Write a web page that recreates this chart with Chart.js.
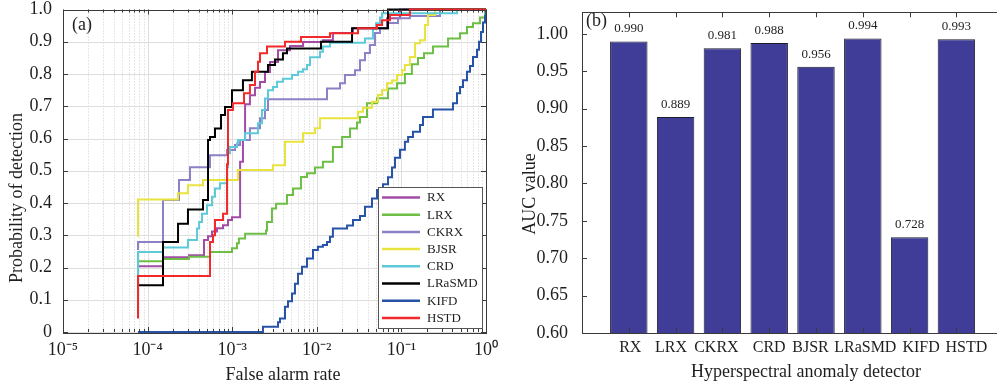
<!DOCTYPE html>
<html><head><meta charset="utf-8">
<script src="https://cdn.jsdelivr.net/npm/chart.js@4.4.1/dist/chart.umd.min.js"></script>
<style>
html,body{margin:0;padding:0;background:#fff;overflow:hidden;width:997px;height:387px;}
#wrap{position:relative;width:997px;height:387px;overflow:hidden;background:#fff;}
#ca{position:absolute;left:0;top:0;}
#cb{position:absolute;left:497px;top:0;}
</style></head><body>
<div id="wrap">
<canvas id="ca" width="506" height="387"></canvas>
<canvas id="cb" width="520" height="387"></canvas>
</div>
<script>
// ---------- Panel (a): ROC curves ----------
const seriesNames = ['RX','LRX','CKRX','BJSR','CRD','LRaSMD','KIFD','HSTD'];
const rocRX = [[7.7e-5,0.204],[1.52e-4,0.232],[3.08e-4,0.238],[4.64e-4,0.285],[5.18e-4,0.297],[5.77e-4,0.312],[6.61e-4,0.322],[7.78e-4,0.331],[8.92e-4,0.347],[9.95e-4,0.356],[1.24e-3,0.528],[1.34e-3,0.595],[1.42e-3,0.706],[1.62e-3,0.734],[1.86e-3,0.757],[2.13e-3,0.775],[2.44e-3,0.806],[2.80e-3,0.837],[3.48e-3,0.874],[4.82e-3,0.887],[6.87e-3,0.899],[1.18e-2,0.905],[1.55e-2,0.927],[2.68e-2,0.942],[6.76e-2,0.973],[9.62e-2,1.0],[1,1]];
const rocLRX = [[7.7e-5,0.219],[1.52e-4,0.226],[3.08e-4,0.233],[5.47e-4,0.248],[9.95e-4,0.26],[1.14e-3,0.275],[1.20e-3,0.29],[1.42e-3,0.305],[2.51e-3,0.315],[2.58e-3,0.341],[2.95e-3,0.383],[3.30e-3,0.398],[4.44e-3,0.425],[5.23e-3,0.445],[6.5e-3,0.481],[7.66e-3,0.492],[9.52e-3,0.51],[1.18e-2,0.528],[1.55e-2,0.574],[1.99e-2,0.605],[2.47e-2,0.631],[2.99e-2,0.65],[3.24e-2,0.667],[3.92e-2,0.709],[5.15e-2,0.725],[6.95e-2,0.755],[8.87e-2,0.771],[0.110,0.8],[0.133,0.83],[0.157,0.85],[0.185,0.864],[0.236,0.885],[0.356,0.91],[0.493,0.926],[0.596,0.946],[0.702,0.957],[0.849,0.975],[0.973,1.0],[1,1]];
const rocCKRX = [[7.7e-5,0.254],[7.7e-5,0.279],[1.52e-4,0.409],[2.35e-4,0.471],[3.17e-4,0.511],[5.47e-4,0.548],[8.69e-4,0.564],[1.08e-3,0.58],[1.24e-3,0.595],[1.62e-3,0.632],[2.13e-3,0.663],[2.44e-3,0.688],[2.65e-3,0.722],[1.32e-2,0.755],[1.88e-2,0.771],[2.15e-2,0.797],[2.83e-2,0.812],[3.24e-2,0.843],[3.71e-2,0.865],[4.25e-2,0.89],[4.87e-2,0.927],[5.58e-2,0.942],[6.95e-2,0.958],[9.12e-2,0.973],[0.126,0.98],[0.286,1.0],[1,1]];
const rocBJSR = [[7.7e-5,0.295],[7.7e-5,0.411],[2.29e-4,0.43],[3.0e-4,0.455],[4.52e-4,0.471],[1.17e-3,0.502],[3.03e-3,0.517],[4.21e-3,0.59],[6.87e-3,0.616],[9.52e-3,0.632],[1.09e-2,0.663],[3.07e-2,0.683],[3.52e-2,0.695],[4.49e-2,0.714],[5.29e-2,0.735],[5.90e-2,0.75],[6.76e-2,0.771],[7.74e-2,0.78],[8.87e-2,0.797],[0.102,0.812],[0.110,0.828],[0.126,0.853],[0.145,0.895],[0.166,0.905],[0.190,0.952],[0.206,0.983],[0.250,1.0],[1,1]];
const rocCRD = [[7.7e-5,0.176],[7.7e-5,0.248],[1.52e-4,0.262],[3.0e-4,0.285],[3.84e-4,0.321],[4.06e-4,0.341],[4.40e-4,0.367],[5.04e-4,0.393],[5.77e-4,0.419],[6.26e-4,0.445],[7.18e-4,0.461],[8.69e-4,0.512],[8.92e-4,0.554],[9.42e-4,0.574],[1.14e-3,0.585],[1.17e-3,0.595],[1.42e-3,0.616],[2.02e-3,0.647],[2.25e-3,0.688],[2.44e-3,0.724],[2.65e-3,0.75],[3.03e-3,0.76],[3.39e-3,0.776],[3.98e-3,0.785],[5.09e-3,0.797],[6.0e-3,0.807],[6.87e-3,0.815],[7.66e-3,0.828],[8.31e-3,0.852],[1.09e-2,0.869],[1.18e-2,0.885],[1.43e-2,0.897],[3.71e-2,0.91],[4.61e-2,0.94],[5.01e-2,0.957],[5.58e-2,0.975],[5.90e-2,0.988],[0.454,1.0],[1,1]];
const rocLRaSMD = [[7.7e-5,0.145],[1.52e-4,0.279],[2.29e-4,0.336],[3.0e-4,0.38],[4.52e-4,0.409],[5.18e-4,0.595],[5.47e-4,0.605],[6.26e-4,0.631],[7.38e-4,0.673],[8.22e-4,0.698],[9.95e-4,0.75],[1.34e-3,0.781],[1.71e-3,0.807],[2.65e-3,0.828],[3.21e-3,0.845],[3.98e-3,0.864],[4.44e-3,0.879],[1.12e-2,0.9],[2.61e-2,0.942],[6.95e-2,1.0],[1,1]];
const rocKIFD = [[7.7e-5,0],[2.31e-3,0.016],[3.48e-3,0.03],[3.67e-3,0.042],[4.21e-3,0.078],[4.57e-3,0.095],[5.09e-3,0.119],[5.52e-3,0.15],[6.0e-3,0.181],[6.68e-3,0.202],[7.66e-3,0.228],[9.02e-3,0.254],[1.03e-2,0.264],[1.18e-2,0.27],[1.32e-2,0.279],[1.43e-2,0.295],[1.55e-2,0.321],[2.28e-2,0.33],[2.68e-2,0.347],[3.24e-2,0.36],[3.71e-2,0.388],[4.49e-2,0.414],[5.15e-2,0.44],[6.06e-2,0.458],[6.95e-2,0.48],[7.74e-2,0.51],[8.40e-2,0.54],[9.62e-2,0.565],[0.110,0.59],[0.120,0.605],[0.137,0.621],[0.166,0.642],[0.180,0.667],[0.236,0.69],[0.407,0.709],[0.454,0.74],[0.493,0.76],[0.535,0.781],[0.596,0.807],[0.647,0.825],[0.702,0.853],[0.783,0.875],[0.826,0.9],[0.873,0.93],[0.922,0.96],[0.973,0.98],[1,1]];
const rocHSTD = [[7.7e-5,0.042],[7.7e-5,0.174],[5.47e-4,0.279],[5.93e-4,0.30],[6.26e-4,0.347],[7.78e-4,0.367],[8.69e-4,0.52],[8.92e-4,0.688],[1.02e-3,0.709],[1.38e-3,0.74],[1.62e-3,0.766],[1.86e-3,0.807],[2.02e-3,0.838],[2.13e-3,0.864],[2.58e-3,0.885],[4.21e-3,0.9],[6.5e-3,0.915],[1.43e-2,0.926],[3.07e-2,0.942],[5.15e-2,0.952],[5.90e-2,0.967],[7.33e-2,0.983],[0.126,1.0],[1,1]];
const xDecades = [1e-5,1e-4,1e-3,1e-2,1e-1,1];
const xDecadeLabels = ['10\u207B\u2075','10\u207B\u2074','10\u207B\u00B3','10\u207B\u00B2','10\u207B\u00B9','10\u2070'];
const yTicksA = [0,0.1,0.2,0.3,0.4,0.5,0.6,0.7,0.8,0.9,1.0];
const yTickLabelsA = ['0','0.1','0.2','0.3','0.4','0.5','0.6','0.7','0.8','0.9','1.0'];

// ---------- Panel (b): AUC bars ----------
const detectors = ['RX','LRX','CKRX','CRD','BJSR','LRaSMD','KIFD','HSTD'];
const aucValues = [0.990,0.889,0.981,0.988,0.956,0.994,0.728,0.993];
const yTicksB = [0.60,0.65,0.70,0.75,0.80,0.85,0.90,0.95,1.00];

// ---------- styles ----------
const rocData = [rocRX,rocLRX,rocCKRX,rocBJSR,rocCRD,rocLRaSMD,rocKIFD,rocHSTD];
const colors = ['#A34CA6','#6DBE45','#8E80C6','#E9E33E','#5CCAD8','#000000','#2652A8','#F2282A'];
const labelShiftB = [1.5,-4.5,-6,0,-5.5,2.5,11.5,10];   // horizontal nudges of category labels (px)
const FONT = '"Liberation Serif", "Times New Roman", serif';
const TXT = '#1e1e1e';
const AXC = '#3a3a3a';

const minorX = [];
xDecades.slice(0,-1).forEach(d => { for (let m = 2; m <= 9; m++) minorX.push(m*d); });
const allX = xDecades.concat(minorX).sort((a,b)=>a-b);
const isDecade = v => xDecades.some(d => Math.abs(v-d)/d < 1e-9);

const decorA = {
  id: 'decorA',
  beforeDatasetsDraw(chart) {
    const {ctx, chartArea:{left,right,top,bottom}, scales:{x,y}} = chart;
    ctx.save();
    ctx.lineWidth = 1;
    ctx.strokeStyle = '#cfcfcf';
    ctx.setLineDash([1,2]);
    minorX.forEach(v => {
      const px = Math.round(x.getPixelForValue(v)) + 0.5;
      ctx.beginPath(); ctx.moveTo(px, top); ctx.lineTo(px, bottom); ctx.stroke();
    });
    ctx.setLineDash([]);
    ctx.strokeStyle = '#dedede';
    xDecades.forEach(v => {
      const px = Math.round(x.getPixelForValue(v)) + 0.5;
      ctx.beginPath(); ctx.moveTo(px, top); ctx.lineTo(px, bottom); ctx.stroke();
    });
    yTicksA.forEach(v => {
      const py = Math.round(y.getPixelForValue(v)) + 0.5;
      ctx.beginPath(); ctx.moveTo(left, py); ctx.lineTo(right, py); ctx.stroke();
    });
    ctx.restore();
  },
  afterDraw(chart) {
    const {ctx, chartArea:{left,right,top,bottom}, scales:{x,y}} = chart;
    ctx.save();
    ctx.strokeStyle = AXC; ctx.lineWidth = 1;
    ctx.strokeRect(Math.round(left)+0.5, Math.round(top)+0.5, Math.round(right-left), Math.round(bottom-top));
    allX.forEach(v => {
      const px = Math.round(x.getPixelForValue(v)) + 0.5;
      const L = isDecade(v) ? 5 : 3;
      ctx.beginPath(); ctx.moveTo(px, bottom); ctx.lineTo(px, bottom-L);
      ctx.moveTo(px, top); ctx.lineTo(px, top+L); ctx.stroke();
    });
    yTicksA.forEach(v => {
      const py = Math.round(y.getPixelForValue(v)) + 0.5;
      ctx.beginPath(); ctx.moveTo(left, py); ctx.lineTo(left+5, py);
      ctx.moveTo(right, py); ctx.lineTo(right-5, py); ctx.stroke();
    });
    // legend
    const lx = 378, ly = 187, lw = 104, lh = 141;
    ctx.fillStyle = '#fff'; ctx.fillRect(lx, ly, lw, lh);
    ctx.strokeStyle = '#555'; ctx.strokeRect(lx+0.5, ly+0.5, lw, lh);
    ctx.font = '13px ' + FONT; ctx.textBaseline = 'middle'; ctx.textAlign = 'left';
    seriesNames.forEach((n, i) => {
      const yy = 197.5 + i*17.2;
      ctx.strokeStyle = colors[i]; ctx.lineWidth = 2.5;
      ctx.beginPath(); ctx.moveTo(382, yy); ctx.lineTo(420, yy); ctx.stroke();
      ctx.fillStyle = TXT; ctx.fillText(n, 427, yy + 0.5);
    });
    // panel tag and axis titles
    ctx.fillStyle = TXT;
    ctx.font = '18px ' + FONT;
    ctx.fillText('(a)', 72, 25);
    ctx.textAlign = 'center';
    ctx.fillText('False alarm rate', 283, 375);
    ctx.translate(17, 198); ctx.rotate(-Math.PI/2);
    ctx.fillText('Probability of detection', 0, 0);
    ctx.restore();
  }
};

new Chart(document.getElementById('ca'), {
  type: 'line',
  data: {
    datasets: seriesNames.map((n, i) => ({
      label: n, data: rocData[i], borderColor: colors[i], backgroundColor: colors[i],
      borderWidth: 2, pointRadius: 0, stepped: true, fill: false,
      order: seriesNames.length - i, clip: 3
    }))
  },
  options: {
    responsive: false, animation: false, events: [],
    layout: { padding: { left: 0, top: 9.5, right: 20, bottom: 0 } },
    plugins: { legend: { display: false }, tooltip: { enabled: false } },
    scales: {
      x: {
        type: 'logarithmic', min: 1e-5, max: 1,
        grid: { display: false }, border: { display: false },
        afterBuildTicks: s => { s.ticks = allX.map(v => ({ value: v, major: isDecade(v) })); },
        afterFit: s => { s.height = 55; },
        ticks: {
          autoSkip: false, maxRotation: 0, minRotation: 0, padding: 4, color: TXT,
          font: { family: FONT, size: 18, lineHeight: 0.7 },
          callback: v => { const k = xDecades.findIndex(d => Math.abs(v-d)/d < 1e-9); return k >= 0 ? xDecadeLabels[k] : ''; }
        }
      },
      y: {
        type: 'linear', min: 0, max: 1,
        grid: { display: false }, border: { display: false },
        afterBuildTicks: s => { s.ticks = yTicksA.map(v => ({ value: v })); },
        afterFit: s => { s.width = 63; },
        ticks: {
          padding: 3, color: TXT, font: { family: FONT, size: 18, lineHeight: 0.7 },
          callback: (v, i) => yTickLabelsA[i]
        }
      }
    }
  },
  plugins: [decorA]
});

const decorB = {
  id: 'decorB',
  afterDraw(chart) {
    const {ctx, chartArea:{left,right,top,bottom}, scales:{x,y}} = chart;
    ctx.save();
    ctx.strokeStyle = AXC; ctx.lineWidth = 1;
    ctx.strokeRect(Math.round(left)+0.5, Math.round(top)+0.5, Math.round(right-left), Math.round(bottom-top));
    detectors.forEach((d, i) => {
      const px = Math.round(x.getPixelForValue(i+1)) + 0.5;
      ctx.beginPath(); ctx.moveTo(px, Math.round(top)); ctx.lineTo(px, top+5);
      ctx.moveTo(px, Math.round(bottom)); ctx.lineTo(px, bottom-5); ctx.stroke();
    });
    yTicksB.forEach(v => {
      const py = Math.round(y.getPixelForValue(v)) + 0.5;
      ctx.beginPath(); ctx.moveTo(left, py); ctx.lineTo(left+5, py);
      ctx.moveTo(right, py); ctx.lineTo(right-5, py); ctx.stroke();
    });
    // value labels
    const meta = chart.getDatasetMeta(0);
    ctx.fillStyle = TXT; ctx.font = '13px ' + FONT;
    ctx.textAlign = 'center'; ctx.textBaseline = 'middle';
    meta.data.forEach((el, i) => { ctx.fillText(aucValues[i].toFixed(3), el.x, el.y - 12.5); });
    // category labels
    ctx.font = '16px ' + FONT;
    detectors.forEach((d, i) => {
      ctx.fillText(d, x.getPixelForValue(i+1) + labelShiftB[i], 348);
    });
    // tag and titles
    ctx.font = '18px ' + FONT;
    ctx.textAlign = 'left';
    ctx.fillText('(b)', 89, 21);
    ctx.textAlign = 'center';
    ctx.fillText('Hyperspectral anomaly detector', 309, 372);
    ctx.translate(33, 194); ctx.rotate(-Math.PI/2);
    ctx.fillText('AUC value', 0, 0);
    ctx.restore();
  }
};

new Chart(document.getElementById('cb'), {
  type: 'bar',
  data: {
    datasets: [{
      label: 'AUC',
      data: detectors.map((d, i) => ({ x: i + 1, y: aucValues[i] })),
      backgroundColor: '#3F3D97', borderColor: '#1c1c2a', borderWidth: 1,
      barPercentage: 0.8, categoryPercentage: 1, borderSkipped: 'start'
    }]
  },
  options: {
    responsive: false, animation: false, events: [],
    layout: { padding: { left: 0, top: 7, right: 13.8, bottom: 0 } },
    plugins: { legend: { display: false }, tooltip: { enabled: false } },
    scales: {
      x: {
        type: 'linear', min: 0, max: 9, offset: false,
        grid: { display: false }, border: { display: false },
        afterBuildTicks: s => { s.ticks = detectors.map((d, i) => ({ value: i + 1 })); },
        afterFit: s => { s.height = 54; },
        ticks: { display: false }
      },
      y: {
        type: 'linear', min: 0.6, max: 1.029,
        grid: { display: false }, border: { display: false },
        afterBuildTicks: s => { s.ticks = yTicksB.map(v => ({ value: v })); },
        afterFit: s => { s.width = 85; },
        ticks: {
          padding: 6, color: TXT, font: { family: FONT, size: 18, lineHeight: 0.7 },
          callback: v => v.toFixed(2)
        }
      }
    }
  },
  plugins: [decorB]
});
</script>
</body></html>
